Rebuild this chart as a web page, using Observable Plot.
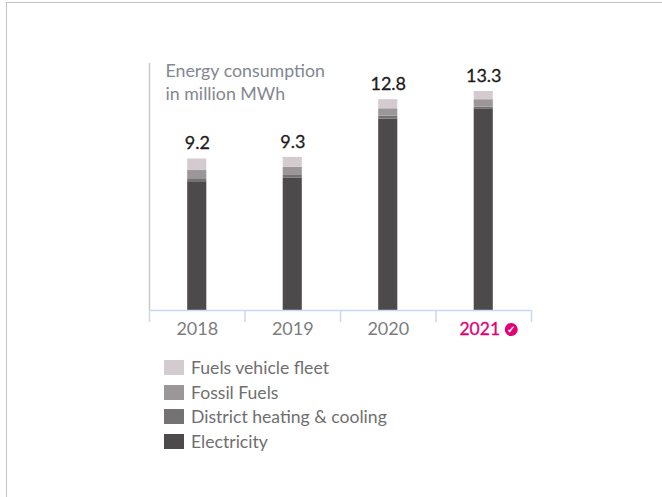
<!DOCTYPE html>
<html>
<head>
<meta charset="utf-8">
<script src="https://cdn.jsdelivr.net/npm/d3@7"></script>
<script src="https://cdn.jsdelivr.net/npm/@observablehq/plot@0.6"></script>
<style>
  html, body { margin: 0; padding: 0; background: #fff; width: 662px; height: 497px; overflow: hidden; }
  body { font-family: Lato, sans-serif; position: relative; }
  #frame { position: absolute; left: 6px; top: 2px; right: 0; bottom: 0; border-top: 1px solid #c4c4c4; border-left: 1px solid #c4c4c4; pointer-events: none; }
  #chart { position: absolute; left: 0; top: 0; }
  #chart svg { display: block; }
  #legend { position: absolute; left: 164px; top: 355px; }
  .row { display: flex; align-items: center; height: 24.7px; color: #6f6f6f; font-size: 17.6px; }
  .sw { width: 20px; height: 15px; margin-right: 7px; flex: none; }
</style>
</head>
<body>
<div id="frame"></div>
<div id="chart"></div>
<div id="legend"></div>
<script>
const years = [2018, 2019, 2020, 2021];
const totals = [9.2, 9.3, 12.8, 13.3];
const electricity = [7.82, 8.05, 11.63, 12.25];
const district = [0.18, 0.15, 0.17, 0.10];
const fossil = [0.50, 0.50, 0.45, 0.45];
const fleet = [0.70, 0.60, 0.55, 0.50];
const seriesNames = ["Electricity", "District heating & cooling", "Fossil Fuels", "Fuels vehicle fleet"];
const seriesColors = ["#4c4a4a", "#757273", "#9b9697", "#d3cbcf"];
const titleLines = "Energy consumption\nin million MWh";
const accent = "#e20074";

const seriesValues = [electricity, district, fossil, fleet];
const segments = [];
years.forEach((year, i) => {
  let base = 0;
  seriesNames.forEach((name, s) => {
    const v = seriesValues[s][i];
    segments.push({year, name, y1: base, y2: base + v});
    base += v;
  });
});
const totalRows = years.map((year, i) => ({year, total: totals[i]}));
const boundaries = [2017.5, 2018.5, 2019.5, 2020.5, 2021.5];
const halfBar = 0.1;
const latest = totalRows.filter(d => d.year === 2021);
const earlier = totalRows.filter(d => d.year !== 2021);

const plot = Plot.plot({
  width: 662,
  height: 345,
  marginLeft: 149,
  marginRight: 131,
  marginTop: 63,
  marginBottom: 35,
  x: {domain: [2017.5, 2021.5]},
  y: {domain: [0, 15]},
  color: {domain: seriesNames, range: seriesColors},
  style: {fontFamily: "Lato, sans-serif", background: "transparent"},
  marks: [
    Plot.ruleX([2017.5], {y1: 0, y2: 15, stroke: "#c9c9c9", strokeWidth: 1.5}),
    Plot.rect(segments, {
      x1: d => d.year - halfBar,
      x2: d => d.year + halfBar,
      y1: "y1",
      y2: "y2",
      fill: "name"
    }),
    Plot.axisX({
      ticks: boundaries,
      tickSize: 12,
      tickFormat: () => "",
      stroke: "#ccd6ef",
      strokeWidth: 1.5,
      label: null
    }),
    Plot.ruleY([0], {stroke: "#ccd6ef", strokeWidth: 1.5}),
    Plot.axisY({ticks: [], label: null}),
    Plot.text(totalRows, {
      x: "year",
      y: "total",
      text: d => d.total.toFixed(1),
      dy: -15.5,
      fontSize: 18,
      fill: "#1c1c1c",
      stroke: "#1c1c1c",
      strokeWidth: 0.3
    }),
    Plot.text(earlier, {
      x: "year",
      frameAnchor: "bottom",
      lineAnchor: "middle",
      text: d => String(d.year),
      dy: 19,
      fontSize: 18,
      fill: "#7d7d7d"
    }),
    Plot.text(latest, {
      x: "year",
      frameAnchor: "bottom",
      lineAnchor: "middle",
      text: d => String(d.year),
      dy: 19,
      dx: -4,
      fontSize: 17.5,
      fill: accent,
      stroke: accent,
      strokeWidth: 0.3
    }),
    Plot.dot(latest, {
      x: "year",
      frameAnchor: "bottom",
      dy: 19,
      dx: 27.5,
      r: 6.5,
      fill: accent
    }),
    Plot.text(latest, {
      x: "year",
      frameAnchor: "bottom",
      lineAnchor: "middle",
      text: () => "\u2713",
      dy: 19,
      dx: 27.5,
      fontSize: 10,
      fontWeight: 700,
      fill: "#fff"
    }),
    Plot.text([titleLines], {
      frameAnchor: "top-left",
      dx: 16,
      dy: -3,
      textAnchor: "start",
      lineHeight: 1.3,
      fontSize: 17.8,
      fill: "#828790"
    })
  ]
});
document.getElementById("chart").append(plot);

const legend = document.getElementById("legend");
[3, 2, 1, 0].forEach(s => {
  const row = document.createElement("div");
  row.className = "row";
  const sw = document.createElement("span");
  sw.className = "sw";
  sw.style.background = seriesColors[s];
  const label = document.createElement("span");
  label.textContent = seriesNames[s];
  row.append(sw, label);
  legend.append(row);
});
</script>
</body>
</html>
